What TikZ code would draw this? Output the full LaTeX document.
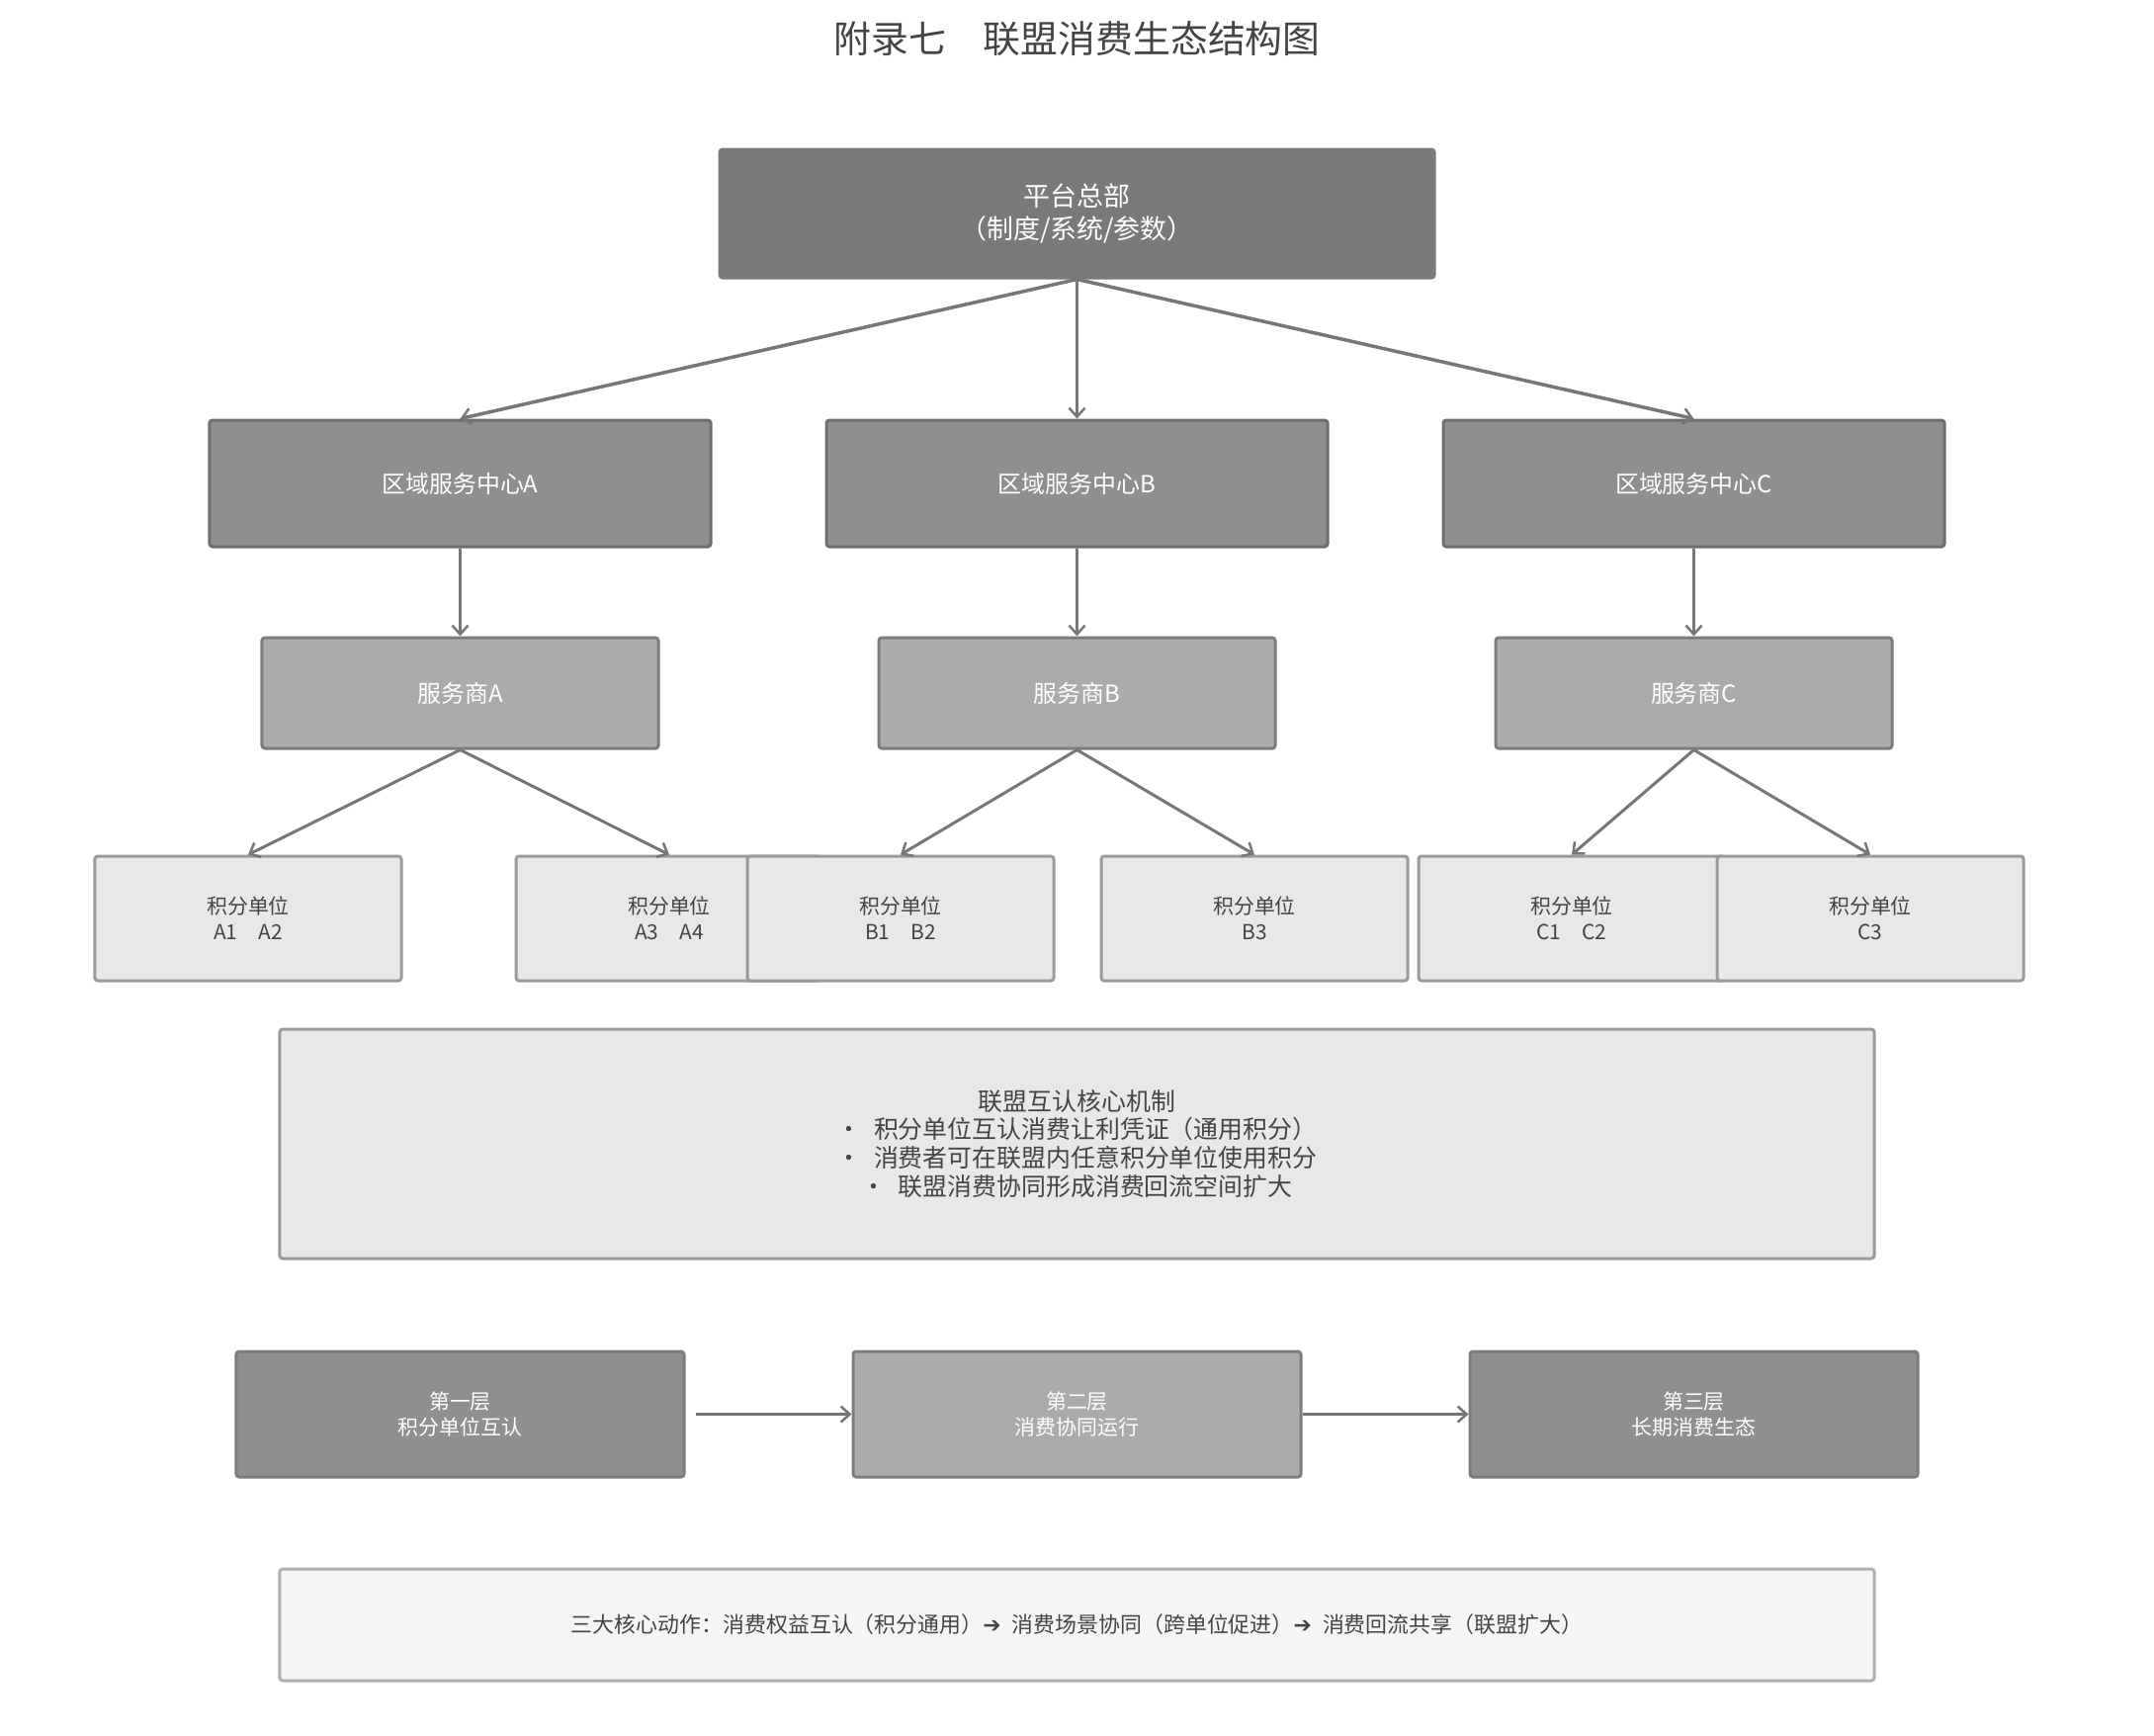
\documentclass[tikz,border=0pt]{standalone}
\usepackage{fontspec}
\setmainfont{Noto Sans CJK SC}
\newfontfamily\arrowfont{DejaVu Sans}
\usetikzlibrary{arrows.meta}

\definecolor{hqfill}{HTML}{7A7A7A}
\definecolor{regionfill}{HTML}{8F8F8F}
\definecolor{provfill}{HTML}{ABABAB}
\definecolor{unitfill}{HTML}{E8E8E8}
\definecolor{notefill}{HTML}{F5F5F5}
\definecolor{edgedark}{HTML}{6E6E6E}
\definecolor{edgemid}{HTML}{7C7C7C}
\definecolor{edgelight}{HTML}{9A9A9A}
\definecolor{arrowgray}{HTML}{777777}
\definecolor{textgray}{HTML}{444444}

\begin{document}
\begin{tikzpicture}[
    x=1bp, y=-1bp,
    node distance=624bp,
    block/.style={rectangle, draw, line width=3bp, rounded corners=3bp, align=center},
    hq_block/.style={block, fill=hqfill, draw=hqfill, text=white, minimum width=723bp, minimum height=130bp, font=\fontsize{27}{33}\selectfont},
    region_block/.style={block, fill=regionfill, draw=edgedark, text=white, minimum width=507bp, minimum height=128bp, font=\fontsize{24}{30}\selectfont},
    prov_block/.style={block, fill=provfill, draw=edgemid, text=white, minimum width=401bp, minimum height=112bp, font=\fontsize{24}{30}\selectfont},
    unit_block/.style={block, fill=unitfill, draw=edgelight, text=textgray, minimum width=310bp, minimum height=126bp, font=\fontsize{21}{26}\selectfont},
    layer_block/.style={block, draw=edgemid, text=white, minimum width=453bp, minimum height=127bp, font=\fontsize{21}{26}\selectfont},
    line/.style={draw=arrowgray, line width=3bp, -{Straight Barb[length=9bp, width=16bp, line width=2.5bp]}}
]
    \useasboundingbox (0,0) rectangle (2179,1755);

    % Title
    \node [text=textgray, font=\fontsize{38}{46}\selectfont] (title) at (1089.5,39) {附录七\quad 联盟消费生态结构图};

    % Level 1: headquarters
    \node [hq_block] (hq) at (1089.5,216) {平台总部\\（制度/系统/参数）};

    % Level 2: regional service centres
    \node [region_block] (regionB) at (1089.5,489) {区域服务中心B};
    \node [region_block, left of=regionB] (regionA) {区域服务中心A};
    \node [region_block, right of=regionB] (regionC) {区域服务中心C};

    % Level 3: service providers
    \node [prov_block, below of=regionA, node distance=212bp] (provA) {服务商A};
    \node [prov_block, below of=regionB, node distance=212bp] (provB) {服务商B};
    \node [prov_block, below of=regionC, node distance=212bp] (provC) {服务商C};

    % Level 4: point units
    \node [unit_block] (unitA1) at (251,929) {积分单位\\A1\quad A2};
    \node [unit_block] (unitA2) at (677,929) {积分单位\\A3\quad A4};
    \node [unit_block] (unitB1) at (911,929) {积分单位\\B1\quad B2};
    \node [unit_block] (unitB2) at (1269,929) {积分单位\\B3};
    \node [unit_block] (unitC1) at (1590,929) {积分单位\\C1\quad C2};
    \node [unit_block] (unitC2) at (1892,929) {积分单位\\C3};

    % Core mechanism
    \node [unit_block, minimum width=1613bp, minimum height=232bp, font=\fontsize{25}{29}\selectfont] (core) at (1089.5,1157)
        {联盟互认核心机制\\·\enspace 积分单位互认消费让利凭证（通用积分）\\·\enspace 消费者可在联盟内任意积分单位使用积分\\·\enspace 联盟消费协同形成消费回流空间扩大};

    % Three layers
    \node [layer_block, fill=provfill] (layer2) at (1089.5,1430.5) {第二层\\消费协同运行};
    \node [layer_block, fill=regionfill, left of=layer2] (layer1) {第一层\\积分单位互认};
    \node [layer_block, fill=regionfill, right of=layer2] (layer3) {第三层\\长期消费生态};

    % Summary
    \node [block, fill=notefill, draw=edgelight!80, text=textgray, minimum width=1613bp, minimum height=113bp, font=\fontsize{22}{27}\selectfont] (summary) at (1089.5,1643.5)
        {三大核心动作：消费权益互认（积分通用）{\arrowfont ➔}\enspace 消费场景协同（跨单位促进）{\arrowfont ➔}\enspace 消费回流共享（联盟扩大）};

    % Paths
    \path [line, line width=3.5bp] (hq.south) -- (regionA.north);
    \path [line, line width=3.5bp] (hq.south) -- (regionB.north);
    \path [line, line width=3.5bp] (hq.south) -- (regionC.north);
    \path [line, line width=3.5bp] (regionA) -- (provA);
    \path [line, line width=3.5bp] (regionB) -- (provB);
    \path [line, line width=3.5bp] (regionC) -- (provC);
    \path [line] (provA.south) -- (unitA1.north);
    \path [line] (provA.south) -- (unitA2.north);
    \path [line] (provB.south) -- (unitB1.north);
    \path [line] (provB.south) -- (unitB2.north);
    \path [line] (provC.south) -- (unitC1.north);
    \path [line] (provC.south) -- (unitC2.north);
    \path [line, line width=3.5bp, shorten <=10bp] (layer1) -- (layer2);
    \path [line, line width=3.5bp] (layer2) -- (layer3);

\end{tikzpicture}
\end{document}
